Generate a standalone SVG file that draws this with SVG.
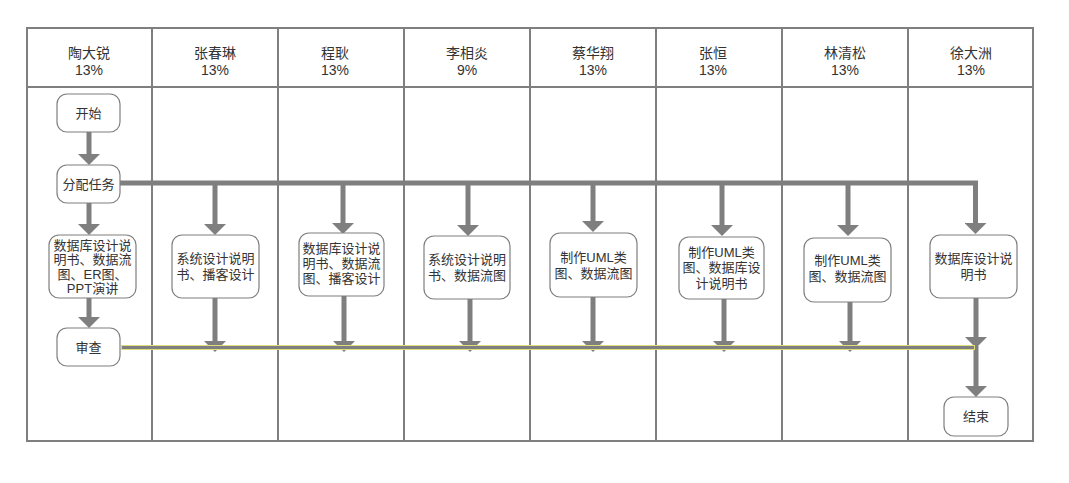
<svg xmlns="http://www.w3.org/2000/svg" width="1069" height="483" viewBox="0 0 1069 483">
<style>
.grid{fill:none;stroke:#7f7f7f;stroke-width:2}
.hd{font-family:"Liberation Sans","Noto Sans CJK SC",sans-serif;font-size:14px;fill:#333;text-anchor:middle}
.node rect{fill:#fff;stroke:#7f7f7f;stroke-width:1.2}
.node text{font-family:"Liberation Sans","Noto Sans CJK SC",sans-serif;font-size:13px;fill:#333;text-anchor:middle}
.c{fill:none;stroke:#7f7f7f;stroke-width:5;stroke-linejoin:miter}
</style>
<defs>
<marker id="ah" viewBox="0 0 11 22" refX="0" refY="11" markerWidth="11" markerHeight="22" markerUnits="userSpaceOnUse" orient="auto">
<path d="M0,0 L11,11 L0,22 z" fill="#7f7f7f"/>
</marker>
</defs>
<rect width="1069" height="483" fill="#fff"/>
<g id="lanes">
<rect class="grid" x="27" y="28" width="1006" height="413"/>
<line class="grid" x1="27" y1="87" x2="1033" y2="87"/>
<line class="grid" x1="152" y1="28" x2="152" y2="441"/>
<line class="grid" x1="278" y1="28" x2="278" y2="441"/>
<line class="grid" x1="404" y1="28" x2="404" y2="441"/>
<line class="grid" x1="530" y1="28" x2="530" y2="441"/>
<line class="grid" x1="656" y1="28" x2="656" y2="441"/>
<line class="grid" x1="782" y1="28" x2="782" y2="441"/>
<line class="grid" x1="908" y1="28" x2="908" y2="441"/>
<text class="hd" x="89" y="58">陶大锐</text><text class="hd" x="89" y="75">13%</text>
<text class="hd" x="215" y="58">张春琳</text><text class="hd" x="215" y="75">13%</text>
<text class="hd" x="335" y="58">程耿</text><text class="hd" x="335" y="75">13%</text>
<text class="hd" x="467" y="58">李相炎</text><text class="hd" x="467" y="75">9%</text>
<text class="hd" x="593" y="58">蔡华翔</text><text class="hd" x="593" y="75">13%</text>
<text class="hd" x="713" y="58">张恒</text><text class="hd" x="713" y="75">13%</text>
<text class="hd" x="845" y="58">林清松</text><text class="hd" x="845" y="75">13%</text>
<text class="hd" x="971" y="58">徐大洲</text><text class="hd" x="971" y="75">13%</text>
</g>
<g id="connectors">
<path class="c" d="M89,132 V154" marker-end="url(#ah)"/>
<path class="c" d="M89,203 V224" marker-end="url(#ah)"/>
<path class="c" d="M89,298 V317" marker-end="url(#ah)"/>
<path class="c" d="M120,183 H975.5 V223" marker-end="url(#ah)"/>
<path class="c" d="M215,183 V224" marker-end="url(#ah)"/>
<path class="c" d="M343,183 V223" marker-end="url(#ah)"/>
<path class="c" d="M468,183 V225" marker-end="url(#ah)"/>
<path class="c" d="M593,183 V221" marker-end="url(#ah)"/>
<path class="c" d="M722,183 V225" marker-end="url(#ah)"/>
<path class="c" d="M848,183 V225" marker-end="url(#ah)"/>
<path class="c" d="M215,298 V341" marker-end="url(#ah)"/>
<path class="c" d="M344,296 V341" marker-end="url(#ah)"/>
<path class="c" d="M470,299 V341" marker-end="url(#ah)"/>
<path class="c" d="M593,297 V341" marker-end="url(#ah)"/>
<path class="c" d="M724,299 V341" marker-end="url(#ah)"/>
<path class="c" d="M850,302 V341" marker-end="url(#ah)"/>
<path class="c" d="M976,298 V337" marker-end="url(#ah)"/>
<path class="c" d="M976,346 V386" marker-end="url(#ah)"/>
<rect x="121.5" y="345.5" width="853" height="4" fill="#7f7f7f" stroke="#dede7a" stroke-width="1"/>
</g>
<g id="n-start" class="node"><rect x="57" y="94" width="63" height="38" rx="10"/><text x="88.5" y="117.5">开始</text></g>
<g id="n-assign" class="node"><rect x="57" y="165" width="63" height="38" rx="10"/><text x="88.5" y="188.5">分配任务</text></g>
<g id="n-t1" class="node"><rect x="49" y="235" width="87" height="63" rx="10"/>
<text x="92.5" y="249.5">数据库设计说</text><text x="92.5" y="264">明书、数据流</text><text x="92.5" y="278.5">图、ER图、</text><text x="92.5" y="293">PPT演讲</text></g>
<g id="n-review" class="node"><rect x="57" y="328" width="63" height="38" rx="10"/><text x="88.5" y="351.5">审查</text></g>
<g id="n-t2" class="node"><rect x="172" y="235" width="87" height="63" rx="10"/>
<text x="215.5" y="263">系统设计说明</text><text x="215.5" y="279">书、播客设计</text></g>
<g id="n-t3" class="node"><rect x="299" y="233" width="85" height="63" rx="10"/>
<text x="341.5" y="253">数据库设计说</text><text x="341.5" y="268">明书、数据流</text><text x="341.5" y="283">图、播客设计</text></g>
<g id="n-t4" class="node"><rect x="424" y="236" width="86" height="63" rx="10"/>
<text x="467" y="264">系统设计说明</text><text x="467" y="280">书、数据流图</text></g>
<g id="n-t5" class="node"><rect x="550" y="233" width="87" height="64" rx="10"/>
<text x="593.5" y="262">制作UML类</text><text x="593.5" y="278">图、数据流图</text></g>
<g id="n-t6" class="node"><rect x="679" y="237" width="85" height="62" rx="10"/>
<text x="721.5" y="256.5">制作UML类</text><text x="721.5" y="272">图、数据库设</text><text x="721.5" y="287.5">计说明书</text></g>
<g id="n-t7" class="node"><rect x="804" y="238" width="87" height="64" rx="10"/>
<text x="847.5" y="265">制作UML类</text><text x="847.5" y="281">图、数据流图</text></g>
<g id="n-t8" class="node"><rect x="930" y="235" width="87" height="63" rx="10"/>
<text x="973.5" y="263">数据库设计说</text><text x="973.5" y="279">明书</text></g>
<g id="n-end" class="node"><rect x="944" y="397" width="64" height="39" rx="10"/><text x="976" y="421">结束</text></g>
</svg>
